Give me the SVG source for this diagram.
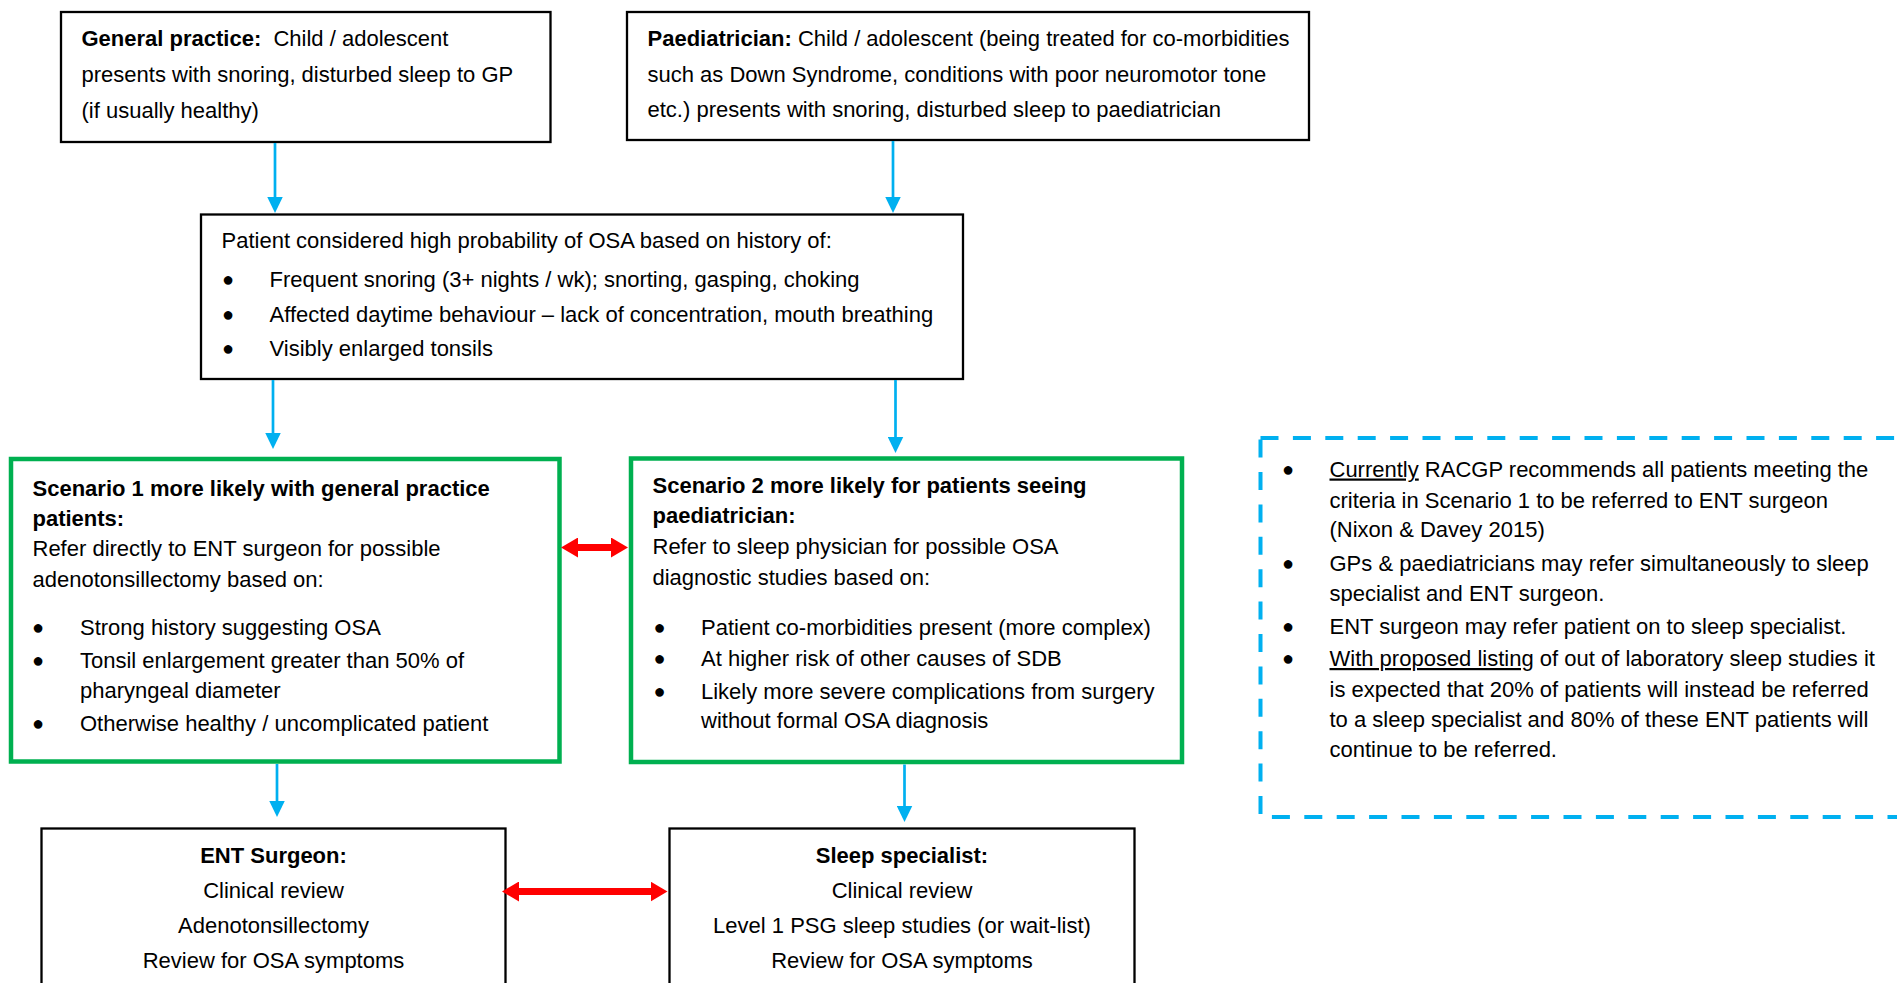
<svg xmlns="http://www.w3.org/2000/svg" width="1897" height="983" viewBox="0 0 1897 983">
<style>
text{font-family:"Liberation Sans",Arial,Helvetica,sans-serif;font-size:22px;fill:#000}
.b{font-weight:bold}
.m{text-anchor:middle}
.bul{font-size:20px;text-anchor:middle}
.box{fill:#fff;stroke:#000;stroke-width:2.3}
.gbox{fill:#fff;stroke:#00B050;stroke-width:4.5}
.dbox{fill:none;stroke:#00B0F0;stroke-width:4;stroke-dasharray:18 14.4}
.blue{stroke:#00B0F0;stroke-width:2.7;fill:none}
.red{stroke:#FF0000;stroke-width:7;fill:none}
.u{text-decoration:underline}
</style>
<defs>
<marker id="ab" markerUnits="userSpaceOnUse" viewBox="0 0 16 16" markerWidth="16" markerHeight="16" refX="0.5" refY="8" orient="auto">
<path d="M0,0.25 L16,8 L0,15.75 Z" fill="#00B0F0"/>
</marker>
<marker id="ar" markerUnits="userSpaceOnUse" viewBox="0 0 17 20" markerWidth="17" markerHeight="20" refX="1" refY="10" orient="auto-start-reverse">
<path d="M0,0 L17,10 L0,20 Z" fill="#FF0000"/>
</marker>
</defs>
<rect width="1897" height="983" fill="#fff"/>

<g id="general-practice">
<rect class="box" x="61" y="12" width="489.5" height="130"/>
<text x="81.5" y="46" xml:space="preserve"><tspan class="b">General practice:</tspan>  Child / adolescent</text>
<text x="81.5" y="82">presents with snoring, disturbed sleep to GP</text>
<text x="81.5" y="118">(if usually healthy)</text>
</g>

<g id="paediatrician">
<rect class="box" x="627" y="12" width="682" height="128"/>
<text x="647.5" y="46"><tspan class="b">Paediatrician:</tspan> Child / adolescent (being treated for co-morbidities</text>
<text x="647.5" y="82">such as Down Syndrome, conditions with poor neuromotor tone</text>
<text x="647.5" y="117">etc.) presents with snoring, disturbed sleep to paediatrician</text>
</g>

<g id="high-probability">
<rect class="box" x="201" y="214.5" width="762" height="164.5"/>
<text x="221.5" y="248">Patient considered high probability of OSA based on history of:</text>
<text class="bul" x="228" y="286">●</text>
<text x="269.5" y="287">Frequent snoring (3+ nights / wk); snorting, gasping, choking</text>
<text class="bul" x="228" y="320.5">●</text>
<text x="269.5" y="321.5">Affected daytime behaviour – lack of concentration, mouth breathing</text>
<text class="bul" x="228" y="355">●</text>
<text x="269.5" y="356">Visibly enlarged tonsils</text>
</g>

<g id="scenario-1">
<rect class="gbox" x="11" y="459" width="548.5" height="302.5"/>
<text class="b" x="32.5" y="495.5">Scenario 1 more likely with general practice</text>
<text class="b" x="32.5" y="525.5">patients:</text>
<text x="32.5" y="556">Refer directly to ENT surgeon for possible</text>
<text x="32.5" y="586.5">adenotonsillectomy based on:</text>
<text class="bul" x="38" y="634">●</text>
<text x="80" y="635">Strong history suggesting OSA</text>
<text class="bul" x="38" y="667">●</text>
<text x="80" y="668">Tonsil enlargement greater than 50% of</text>
<text x="80" y="698">pharyngeal diameter</text>
<text class="bul" x="38" y="729.5">●</text>
<text x="80" y="730.5">Otherwise healthy / uncomplicated patient</text>
</g>

<g id="scenario-2">
<rect class="gbox" x="631" y="458.5" width="551" height="303.5"/>
<text class="b" x="652.5" y="493">Scenario 2 more likely for patients seeing</text>
<text class="b" x="652.5" y="523">paediatrician:</text>
<text x="652.5" y="554">Refer to sleep physician for possible OSA</text>
<text x="652.5" y="585">diagnostic studies based on:</text>
<text class="bul" x="659.5" y="634">●</text>
<text x="701" y="635">Patient co-morbidities present (more complex)</text>
<text class="bul" x="659.5" y="664.5">●</text>
<text x="701" y="665.5">At higher risk of other causes of SDB</text>
<text class="bul" x="659.5" y="697.5">●</text>
<text x="701" y="698.5">Likely more severe complications from surgery</text>
<text x="701" y="728">without formal OSA diagnosis</text>
</g>

<g id="ent-surgeon">
<rect class="box" x="41.5" y="828.5" width="464" height="180"/>
<text class="b m" x="273.5" y="862.5">ENT Surgeon:</text>
<text class="m" x="273.5" y="897.5">Clinical review</text>
<text class="m" x="273.5" y="932.5">Adenotonsillectomy</text>
<text class="m" x="273.5" y="968">Review for OSA symptoms</text>
</g>

<g id="sleep-specialist">
<rect class="box" x="669.5" y="828.5" width="465" height="180"/>
<text class="b m" x="902" y="862.5">Sleep specialist:</text>
<text class="m" x="902" y="897.5">Clinical review</text>
<text class="m" x="902" y="932.5">Level 1 PSG sleep studies (or wait-list)</text>
<text class="m" x="902" y="968">Review for OSA symptoms</text>
</g>

<g id="notes">
<rect class="dbox" x="1260.5" y="438" width="700" height="379"/>
<text class="bul" x="1288" y="475.5">●</text>
<text x="1329.5" y="476.5"><tspan class="u">Currently</tspan> RACGP recommends all patients meeting the</text>
<text x="1329.5" y="507.5">criteria in Scenario 1 to be referred to ENT surgeon</text>
<text x="1329.5" y="537">(Nixon &amp; Davey 2015)</text>
<text class="bul" x="1288" y="569.5">●</text>
<text x="1329.5" y="570.5">GPs &amp; paediatricians may refer simultaneously to sleep</text>
<text x="1329.5" y="600.5">specialist and ENT surgeon.</text>
<text class="bul" x="1288" y="632.5">●</text>
<text x="1329.5" y="633.5">ENT surgeon may refer patient on to sleep specialist.</text>
<text class="bul" x="1288" y="665">●</text>
<text x="1329.5" y="666"><tspan class="u">With proposed listing</tspan> of out of laboratory sleep studies it</text>
<text x="1329.5" y="696.5">is expected that 20% of patients will instead be referred</text>
<text x="1329.5" y="727">to a sleep specialist and 80% of these ENT patients will</text>
<text x="1329.5" y="757">continue to be referred.</text>
</g>

<g id="connectors">
<line class="blue" x1="275" y1="143" x2="275" y2="197.5" marker-end="url(#ab)"/>
<line class="blue" x1="893" y1="141" x2="893" y2="197.5" marker-end="url(#ab)"/>
<line class="blue" x1="273" y1="380" x2="273" y2="433.5" marker-end="url(#ab)"/>
<line class="blue" x1="895.5" y1="380" x2="895.5" y2="437.5" marker-end="url(#ab)"/>
<line class="blue" x1="277" y1="764" x2="277" y2="801.5" marker-end="url(#ab)"/>
<line class="blue" x1="904.5" y1="764.5" x2="904.5" y2="806.5" marker-end="url(#ab)"/>
<line class="red" x1="577" y1="547.5" x2="612" y2="547.5" marker-start="url(#ar)" marker-end="url(#ar)"/>
<line class="red" x1="518" y1="891.5" x2="651.5" y2="891.5" marker-start="url(#ar)" marker-end="url(#ar)"/>
</g>
</svg>
